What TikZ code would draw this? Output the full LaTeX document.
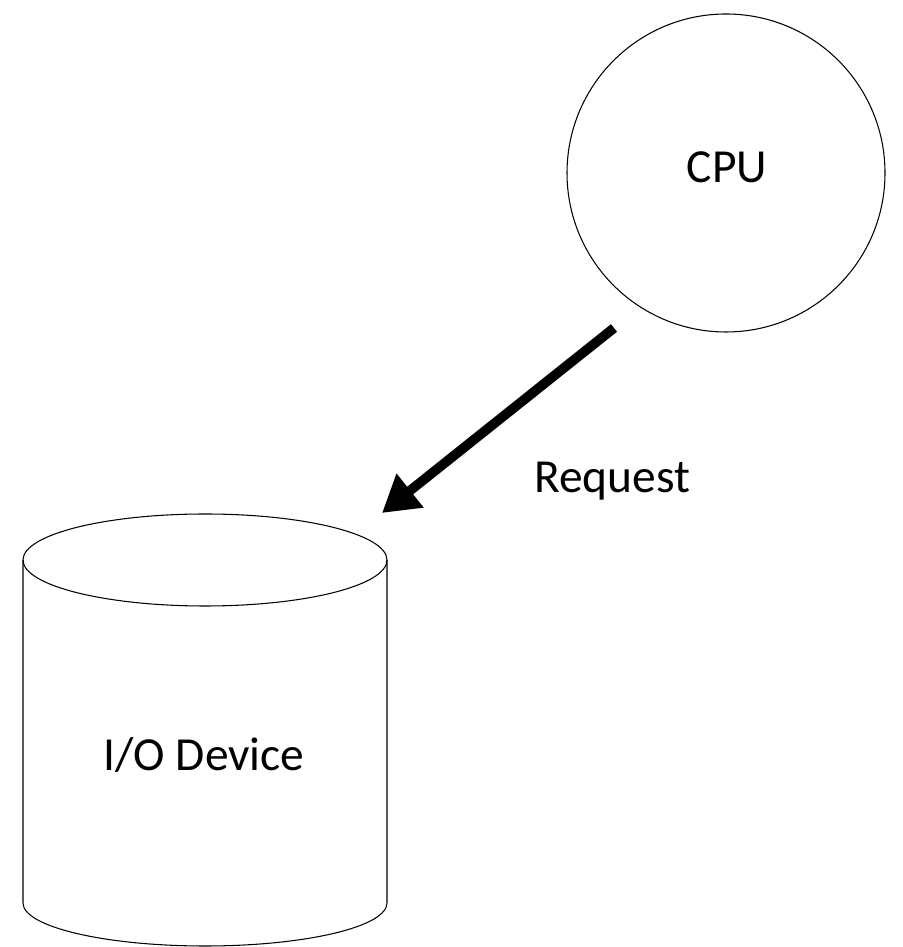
\documentclass[tikz,border=0pt]{standalone}
\usepackage{fontspec}
\setmainfont{Carlito}
\usetikzlibrary{arrows.meta}
\begin{document}
\begin{tikzpicture}[outline/.style={line width=0.6pt},
    label text/.style={font=\fontsize{27}{32}\selectfont, anchor=base, inner sep=0pt}]
                \useasboundingbox (0,0) rectangle (18.04,18.94);
                % CPU
                \draw[outline] (14.52,15.48) circle (3.18);
                \node[label text] (cpu) at (14.54,15.28) {CPU};
                % I/O device cylinder
                \draw[outline] (4.10,7.74) ellipse (3.64 and 0.92);
                \draw[outline] (0.46,7.74) -- (0.46,0.88) arc (180:360:3.64 and 0.86) -- (7.74,7.74);
                \node[label text] (io) at (4.08,3.52) {I/O Device};
                % request arrow
                \coordinate (req start) at (12.28,12.38);
                \coordinate (req end) at (7.64,8.68);
                \draw[line width=5.5pt, -{Triangle[length=0.72cm,width=0.82cm]}] (req start) -- (req end);
                \node[label text] (req) at (12.24,9.08) {Request};
            \end{tikzpicture}
\end{document}
